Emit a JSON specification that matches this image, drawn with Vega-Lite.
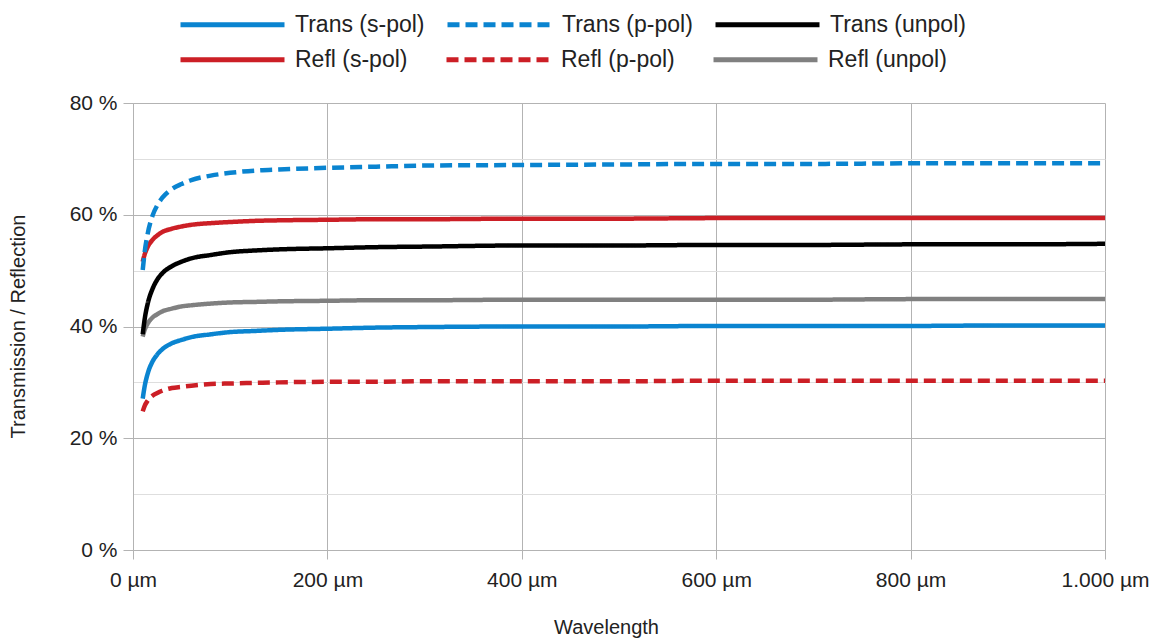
{
  "$schema": "https://vega.github.io/schema/vega-lite/v6.json",
  "width": 972,
  "height": 447,
  "autosize": {"type": "none"},
  "padding": {"left": 133, "top": 103, "right": 61, "bottom": 89},
  "background": "white",
  "config": {
    "font": "Liberation Sans",
    "view": {"stroke": null},
    "legend": {"padding": 0}
  },
  "datasets": {
    "curves": [
      {"series": "Trans (s-pol)", "w": 10, "v": 27.1}, {"series": "Trans (s-pol)", "w": 12, "v": 29.3}, {"series": "Trans (s-pol)", "w": 15, "v": 31.5}, {"series": "Trans (s-pol)", "w": 20, "v": 33.7}, {"series": "Trans (s-pol)", "w": 25, "v": 35.0}, {"series": "Trans (s-pol)", "w": 30, "v": 35.9}, {"series": "Trans (s-pol)", "w": 40, "v": 37.0}, {"series": "Trans (s-pol)", "w": 50, "v": 37.6}, {"series": "Trans (s-pol)", "w": 60, "v": 38.1}, {"series": "Trans (s-pol)", "w": 80, "v": 38.6}, {"series": "Trans (s-pol)", "w": 100, "v": 39.0}, {"series": "Trans (s-pol)", "w": 125, "v": 39.2}, {"series": "Trans (s-pol)", "w": 150, "v": 39.4}, {"series": "Trans (s-pol)", "w": 200, "v": 39.6}, {"series": "Trans (s-pol)", "w": 250, "v": 39.8}, {"series": "Trans (s-pol)", "w": 300, "v": 39.9}, {"series": "Trans (s-pol)", "w": 400, "v": 40.0}, {"series": "Trans (s-pol)", "w": 500, "v": 40.0}, {"series": "Trans (s-pol)", "w": 600, "v": 40.1}, {"series": "Trans (s-pol)", "w": 700, "v": 40.1}, {"series": "Trans (s-pol)", "w": 800, "v": 40.1}, {"series": "Trans (s-pol)", "w": 900, "v": 40.2}, {"series": "Trans (s-pol)", "w": 1000, "v": 40.2},
      {"series": "Trans (p-pol)", "w": 10, "v": 50.1}, {"series": "Trans (p-pol)", "w": 12, "v": 53.3}, {"series": "Trans (p-pol)", "w": 15, "v": 56.5}, {"series": "Trans (p-pol)", "w": 20, "v": 59.8}, {"series": "Trans (p-pol)", "w": 25, "v": 61.7}, {"series": "Trans (p-pol)", "w": 30, "v": 63.0}, {"series": "Trans (p-pol)", "w": 40, "v": 64.6}, {"series": "Trans (p-pol)", "w": 50, "v": 65.5}, {"series": "Trans (p-pol)", "w": 60, "v": 66.2}, {"series": "Trans (p-pol)", "w": 80, "v": 67.0}, {"series": "Trans (p-pol)", "w": 100, "v": 67.5}, {"series": "Trans (p-pol)", "w": 125, "v": 67.9}, {"series": "Trans (p-pol)", "w": 150, "v": 68.1}, {"series": "Trans (p-pol)", "w": 200, "v": 68.4}, {"series": "Trans (p-pol)", "w": 250, "v": 68.6}, {"series": "Trans (p-pol)", "w": 300, "v": 68.8}, {"series": "Trans (p-pol)", "w": 400, "v": 68.9}, {"series": "Trans (p-pol)", "w": 500, "v": 69.0}, {"series": "Trans (p-pol)", "w": 600, "v": 69.1}, {"series": "Trans (p-pol)", "w": 700, "v": 69.1}, {"series": "Trans (p-pol)", "w": 800, "v": 69.2}, {"series": "Trans (p-pol)", "w": 900, "v": 69.2}, {"series": "Trans (p-pol)", "w": 1000, "v": 69.2},
      {"series": "Trans (unpol)", "w": 10, "v": 38.6}, {"series": "Trans (unpol)", "w": 12, "v": 41.3}, {"series": "Trans (unpol)", "w": 15, "v": 44.0}, {"series": "Trans (unpol)", "w": 20, "v": 46.7}, {"series": "Trans (unpol)", "w": 25, "v": 48.4}, {"series": "Trans (unpol)", "w": 30, "v": 49.5}, {"series": "Trans (unpol)", "w": 40, "v": 50.8}, {"series": "Trans (unpol)", "w": 50, "v": 51.6}, {"series": "Trans (unpol)", "w": 60, "v": 52.2}, {"series": "Trans (unpol)", "w": 80, "v": 52.8}, {"series": "Trans (unpol)", "w": 100, "v": 53.3}, {"series": "Trans (unpol)", "w": 125, "v": 53.6}, {"series": "Trans (unpol)", "w": 150, "v": 53.8}, {"series": "Trans (unpol)", "w": 200, "v": 54.0}, {"series": "Trans (unpol)", "w": 250, "v": 54.2}, {"series": "Trans (unpol)", "w": 300, "v": 54.3}, {"series": "Trans (unpol)", "w": 400, "v": 54.5}, {"series": "Trans (unpol)", "w": 500, "v": 54.5}, {"series": "Trans (unpol)", "w": 600, "v": 54.6}, {"series": "Trans (unpol)", "w": 700, "v": 54.6}, {"series": "Trans (unpol)", "w": 800, "v": 54.7}, {"series": "Trans (unpol)", "w": 900, "v": 54.7}, {"series": "Trans (unpol)", "w": 1000, "v": 54.8},
      {"series": "Refl (s-pol)", "w": 10, "v": 51.6}, {"series": "Refl (s-pol)", "w": 12, "v": 52.9}, {"series": "Refl (s-pol)", "w": 15, "v": 54.2}, {"series": "Refl (s-pol)", "w": 20, "v": 55.5}, {"series": "Refl (s-pol)", "w": 25, "v": 56.3}, {"series": "Refl (s-pol)", "w": 30, "v": 56.9}, {"series": "Refl (s-pol)", "w": 40, "v": 57.5}, {"series": "Refl (s-pol)", "w": 50, "v": 57.9}, {"series": "Refl (s-pol)", "w": 60, "v": 58.2}, {"series": "Refl (s-pol)", "w": 80, "v": 58.5}, {"series": "Refl (s-pol)", "w": 100, "v": 58.7}, {"series": "Refl (s-pol)", "w": 125, "v": 58.9}, {"series": "Refl (s-pol)", "w": 150, "v": 59.0}, {"series": "Refl (s-pol)", "w": 200, "v": 59.1}, {"series": "Refl (s-pol)", "w": 250, "v": 59.2}, {"series": "Refl (s-pol)", "w": 300, "v": 59.2}, {"series": "Refl (s-pol)", "w": 400, "v": 59.3}, {"series": "Refl (s-pol)", "w": 500, "v": 59.3}, {"series": "Refl (s-pol)", "w": 600, "v": 59.4}, {"series": "Refl (s-pol)", "w": 700, "v": 59.4}, {"series": "Refl (s-pol)", "w": 800, "v": 59.4}, {"series": "Refl (s-pol)", "w": 900, "v": 59.4}, {"series": "Refl (s-pol)", "w": 1000, "v": 59.4},
      {"series": "Refl (p-pol)", "w": 10, "v": 24.8}, {"series": "Refl (p-pol)", "w": 12, "v": 25.8}, {"series": "Refl (p-pol)", "w": 15, "v": 26.7}, {"series": "Refl (p-pol)", "w": 20, "v": 27.6}, {"series": "Refl (p-pol)", "w": 25, "v": 28.1}, {"series": "Refl (p-pol)", "w": 30, "v": 28.5}, {"series": "Refl (p-pol)", "w": 40, "v": 29.0}, {"series": "Refl (p-pol)", "w": 50, "v": 29.2}, {"series": "Refl (p-pol)", "w": 60, "v": 29.4}, {"series": "Refl (p-pol)", "w": 80, "v": 29.7}, {"series": "Refl (p-pol)", "w": 100, "v": 29.8}, {"series": "Refl (p-pol)", "w": 125, "v": 29.9}, {"series": "Refl (p-pol)", "w": 150, "v": 30.0}, {"series": "Refl (p-pol)", "w": 200, "v": 30.1}, {"series": "Refl (p-pol)", "w": 250, "v": 30.1}, {"series": "Refl (p-pol)", "w": 300, "v": 30.2}, {"series": "Refl (p-pol)", "w": 400, "v": 30.2}, {"series": "Refl (p-pol)", "w": 500, "v": 30.2}, {"series": "Refl (p-pol)", "w": 600, "v": 30.3}, {"series": "Refl (p-pol)", "w": 700, "v": 30.3}, {"series": "Refl (p-pol)", "w": 800, "v": 30.3}, {"series": "Refl (p-pol)", "w": 900, "v": 30.3}, {"series": "Refl (p-pol)", "w": 1000, "v": 30.3},
      {"series": "Refl (unpol)", "w": 10, "v": 38.2}, {"series": "Refl (unpol)", "w": 12, "v": 39.4}, {"series": "Refl (unpol)", "w": 15, "v": 40.5}, {"series": "Refl (unpol)", "w": 20, "v": 41.6}, {"series": "Refl (unpol)", "w": 25, "v": 42.2}, {"series": "Refl (unpol)", "w": 30, "v": 42.7}, {"series": "Refl (unpol)", "w": 40, "v": 43.2}, {"series": "Refl (unpol)", "w": 50, "v": 43.6}, {"series": "Refl (unpol)", "w": 60, "v": 43.8}, {"series": "Refl (unpol)", "w": 80, "v": 44.1}, {"series": "Refl (unpol)", "w": 100, "v": 44.3}, {"series": "Refl (unpol)", "w": 125, "v": 44.4}, {"series": "Refl (unpol)", "w": 150, "v": 44.5}, {"series": "Refl (unpol)", "w": 200, "v": 44.6}, {"series": "Refl (unpol)", "w": 250, "v": 44.7}, {"series": "Refl (unpol)", "w": 300, "v": 44.7}, {"series": "Refl (unpol)", "w": 400, "v": 44.8}, {"series": "Refl (unpol)", "w": 500, "v": 44.8}, {"series": "Refl (unpol)", "w": 600, "v": 44.8}, {"series": "Refl (unpol)", "w": 700, "v": 44.8}, {"series": "Refl (unpol)", "w": 800, "v": 44.9}, {"series": "Refl (unpol)", "w": 900, "v": 44.9}, {"series": "Refl (unpol)", "w": 1000, "v": 44.9}
    ]
  },
  "data": {"name": "curves"},
  "encoding": {
    "x": {
      "field": "w",
      "type": "quantitative",
      "scale": {"domain": [0, 1000], "nice": false, "zero": false},
      "axis": {
        "values": [0, 200, 400, 600, 800, 1000],
        "labelExpr": "replace(format(datum.value, ','), ',', '.') + ' µm'",
        "labelFontSize": 21,
        "labelColor": "#222222",
        "labelPadding": 10,
        "labelFlush": false,
        "tickSize": 9,
        "tickColor": "#b3b3b3",
        "domainColor": "#b3b3b3",
        "gridColor": "#b3b3b3",
        "gridWidth": 1,
        "title": "Wavelength",
        "titleFontSize": 20,
        "titleFontWeight": "normal",
        "titleColor": "#222222",
        "titleX": 473,
        "titleY": 77,
        "titleBaseline": "middle"
      }
    },
    "y": {
      "field": "v",
      "type": "quantitative",
      "scale": {"domain": [0, 80], "nice": false},
      "axis": {
        "values": [0, 10, 20, 30, 40, 50, 60, 70, 80],
        "labelExpr": "datum.value % 20 === 0 ? datum.value + ' %' : ''",
        "labelFontSize": 21,
        "labelColor": "#222222",
        "labelPadding": 6,
        "tickSize": 10,
        "tickColor": {"condition": {"test": "datum.value % 20 === 0", "value": "#b3b3b3"}, "value": "transparent"},
        "domainColor": "#b3b3b3",
        "gridColor": {"condition": {"test": "datum.value % 20 === 0", "value": "#b3b3b3"}, "value": "#dedede"},
        "gridWidth": 1,
        "title": "Transmission / Reflection",
        "titleFontSize": 20,
        "titleFontWeight": "normal",
        "titleColor": "#222222",
        "titleX": -115,
        "titleY": 223,
        "titleBaseline": "middle",
        "titleAlign": "center",
        "titleAngle": -90
      }
    }
  },
  "layer": [
    {
      "transform": [{"filter": {"field": "series", "oneOf": ["Refl (s-pol)", "Refl (p-pol)", "Refl (unpol)"]}}],
      "mark": {"type": "line", "strokeWidth": 4.5, "interpolate": "monotone", "clip": true},
      "encoding": {
        "color": {
          "field": "series",
          "type": "nominal",
          "scale": {
            "domain": ["Refl (s-pol)", "Refl (p-pol)", "Refl (unpol)"],
            "range": ["#cc1f26", "#cc1f26", "#808080"]
          },
          "legend": {
            "title": null,
            "orient": "none",
            "legendX": 45,
            "legendY": -98,
            "columns": 3,
            "direction": "horizontal",
            "symbolType": "stroke",
            "symbolSize": 10816,
            "symbolStrokeWidth": 5,
            "labelFontSize": 23,
            "labelColor": "#222222",
            "labelOffset": 8,
            "columnPadding": 28,
            "labelLimit": 300
          }
        },
        "strokeDash": {
          "field": "series",
          "type": "nominal",
          "scale": {
            "domain": ["Refl (s-pol)", "Refl (p-pol)", "Refl (unpol)"],
            "range": [[1, 0], [12, 6], [1, 0]]
          },
          "legend": null
        }
      }
    },
    {
      "transform": [{"filter": {"field": "series", "oneOf": ["Trans (s-pol)", "Trans (p-pol)", "Trans (unpol)"]}}],
      "mark": {"type": "line", "strokeWidth": 4.5, "interpolate": "monotone", "clip": true},
      "encoding": {
        "color": {
          "field": "series",
          "type": "nominal",
          "scale": {
            "domain": ["Trans (s-pol)", "Trans (p-pol)", "Trans (unpol)"],
            "range": ["#0a84d0", "#0a84d0", "#000000"]
          },
          "legend": {
            "title": null,
            "orient": "none",
            "legendX": 45,
            "legendY": -133,
            "columns": 3,
            "direction": "horizontal",
            "symbolType": "stroke",
            "symbolSize": 10816,
            "symbolStrokeWidth": 5,
            "labelFontSize": 23,
            "labelColor": "#222222",
            "labelOffset": 8,
            "columnPadding": 12,
            "labelLimit": 300
          }
        },
        "strokeDash": {
          "field": "series",
          "type": "nominal",
          "scale": {
            "domain": ["Trans (s-pol)", "Trans (p-pol)", "Trans (unpol)"],
            "range": [[1, 0], [12, 6], [1, 0]]
          },
          "legend": null
        }
      }
    }
  ],
  "resolve": {"scale": {"color": "independent", "strokeDash": "independent"}}
}
